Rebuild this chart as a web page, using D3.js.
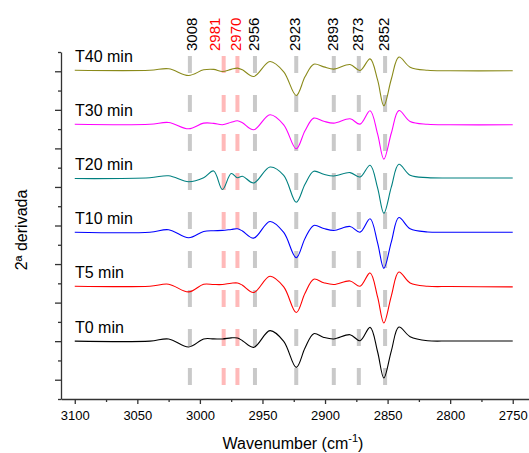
<!DOCTYPE html>
<html><head><meta charset="utf-8">
<script src="https://cdn.jsdelivr.net/npm/d3@7/dist/d3.min.js"></script>
<style>
body{margin:0;background:#fff}
svg{display:block;font-family:"Liberation Sans",Arial,sans-serif}
</style>
</head><body>
<svg id="chart" width="529" height="453"></svg>
<script>
// ---- data ----
const wavenumbers = [3100,3040,3025,3009,2997,2989,2982,2975,2970,2966,2957,2944,2933,2923,2916,2909,2901,2893,2880,2872,2864,2858,2853,2847,2841,2832,2818,2800,2750];
const seriesNames = ["T0 min","T5 min","T10 min","T20 min","T30 min","T40 min"];
const seriesOffsets = [60,117,173,229,285,341];
const t0Values  = [0,0,2.3,-6.0,2.3,2.4,2.3,3.4,3.3,0.5,-6.4,10.9,-0.2,-27.2,-7.1,7.8,3.9,2.3,6.7,0.5,14.3,-11,-38.2,-10,14.7,4.7,0.5,0.2,0.2];
const t5Values  = [0,0,2.1,-5.9,2.1,1.8,1.8,3.1,3.4,1.0,-6.5,10.4,-0.7,-27.3,-7.3,7.3,3.6,1.8,5.5,0,13.8,-11,-38.1,-10,14.8,3.4,0,-0.3,-0.7];
const t10Values = [0,0,2.6,-5.7,0.8,1.6,1.9,2.9,3.6,1.3,-6.1,11.2,-0.2,-26.4,-6.4,7.1,3.9,1.9,6.0,0.1,14.0,-11,-37.5,-10,15.3,3.6,0.3,0,0];
const t20Values = [-0.3,0.5,2.6,-3.6,0.6,7.6,-11.7,4.9,0.5,2.1,-4.9,11.7,3.1,-24.9,-6.2,7.3,4.1,2.4,5.9,1.3,13.5,-10,-36.3,-9,14.5,3.1,0.7,0.3,0.3];
const t30Values = [0,0,1.9,-4.7,1.2,1.0,-0.5,2.1,3.6,1.6,-5.7,9.9,-0.5,-25.4,-6.7,6.4,3.1,1.2,5.7,0.2,14.0,-10,-36.1,-9,14.2,2.9,0,-0.5,-0.5];
const t40Values = [0,0,1.6,-5.4,0.5,1.0,-1.2,1.0,2.3,0.5,-6.4,9.1,-1.6,-26.1,-6.7,6.4,3.6,1.2,6.0,-0.2,11.9,-10,-36.8,-9,13.7,3.3,0,-0.5,-0.5];
const peakPositions = [3008,2981,2970,2956,2923,2893,2873,2852];
const peakHighlighted = [false,true,true,false,false,false,false,false];
const xTickValues = [3100,3050,3000,2950,2900,2850,2800,2750];
const xMinorTickValues = [3075,3025,2975,2925,2875,2825,2775];
const yMajorTicks = [20,60,100,140,180,220,260,300,340];
const yMinorTicks = [0,40,80,120,160,200,240,280,320,360];

// ---- styles ----
const seriesColors = ["#000000","#ff0000","#0000ff","#008080","#ff00ff","#8a8a1a"];
const labelNudge = {3008:3, 2981:-8};

const allSeries = [t0Values,t5Values,t10Values,t20Values,t30Values,t40Values];

const svg = d3.select("#chart");
const x = d3.scaleLinear().domain([3111, 2737]).range([61, 529]);
const y = d3.scaleLinear().domain([0, 360]).range([399, 52]);

// dashed reference lines
svg.append("g").selectAll("line").data(peakPositions).join("line")
  .attr("x1", d => x(d)).attr("x2", d => x(d))
  .attr("y1", 56).attr("y2", 388)
  .attr("stroke", (d,i) => peakHighlighted[i] ? "#ffb9b9" : "#c9c9c9")
  .attr("stroke-width", 4)
  .attr("stroke-dasharray", "17,22");

// peak labels
svg.append("g").selectAll("text").data(peakPositions).join("text")
  .attr("transform", d => `translate(${x(d) + 4 + (labelNudge[d]||0)},51) rotate(-90)`)
  .attr("font-size", 15)
  .attr("fill", (d,i) => peakHighlighted[i] ? "#ff0000" : "#000")
  .text(d => d);

// curves
const line = d3.line()
  .x(d => x(d[0])).y(d => y(d[1]))
  .curve(d3.curveCatmullRom.alpha(0.5));
allSeries.forEach((vals, i) => {
  const pts = wavenumbers.map((w, k) => [w, seriesOffsets[i] + vals[k]]);
  svg.append("path").attr("d", line(pts))
    .attr("fill", "none").attr("stroke", seriesColors[i]).attr("stroke-width", 1.1);
  svg.append("text").attr("x", 75).attr("y", y(seriesOffsets[i]) - 8)
    .attr("font-size", 16).attr("fill", "#000").text(seriesNames[i]);
});

// axes
const axisColor = "#333";
const gx = svg.append("g").attr("transform", "translate(0,399)");
gx.call(d3.axisBottom(x).tickValues(xTickValues).tickSize(5).tickSizeOuter(0).tickPadding(7).tickFormat(d3.format("d")));
const gxm = svg.append("g").attr("transform", "translate(0,399)");
gxm.call(d3.axisBottom(x).tickValues(xMinorTickValues).tickSize(3).tickSizeOuter(0).tickFormat(""));
gxm.select(".domain").remove();
const gy = svg.append("g").attr("transform", "translate(61,0)");
gy.call(d3.axisLeft(y).tickValues(yMajorTicks).tickSize(6).tickSizeOuter(0).tickFormat(""));
const gym = svg.append("g").attr("transform", "translate(61,0)");
gym.call(d3.axisLeft(y).tickValues(yMinorTicks).tickSize(3).tickSizeOuter(0).tickFormat(""));
gym.select(".domain").remove();
svg.selectAll(".domain, .tick line").attr("stroke", axisColor).attr("stroke-width", 1.3);
gx.selectAll(".tick text").attr("font-size", 13).attr("fill", "#000").attr("font-family", "Liberation Sans, Arial, sans-serif");

// axis titles
const xt = svg.append("text").attr("x", 293).attr("y", 449).attr("text-anchor", "middle").attr("font-size", 16);
xt.append("tspan").text("Wavenumber (cm");
xt.append("tspan").attr("font-size", 11).attr("dy", -7).text("-1");
xt.append("tspan").attr("dy", 7).text(")");
svg.append("text").attr("transform", "translate(27,230) rotate(-90)")
  .attr("text-anchor", "middle").attr("font-size", 16).text("2ª derivada");
</script>
</body></html>
